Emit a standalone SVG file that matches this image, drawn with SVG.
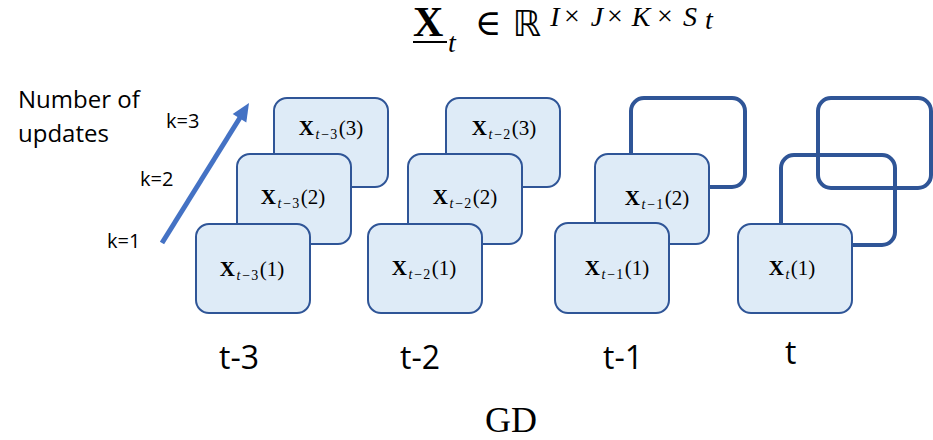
<svg xmlns="http://www.w3.org/2000/svg" width="933" height="440" viewBox="0 0 933 440">
<style>
.box{fill:#DEEBF7;stroke:#2F5597;stroke-width:2}
.empty{fill:none;stroke:#2F5597;stroke-width:4}
.lbl{font-family:"Liberation Serif","Times New Roman",serif;font-size:21px;fill:#000;text-anchor:middle}
.b{font-weight:bold}
.sub{font-size:14px}
.it{font-style:italic}
.sans{font-family:"Open Sans","Liberation Sans",sans-serif;fill:#000}
.k{font-size:20px}
.tl{font-size:32px}
.ser{font-family:"Liberation Serif","Times New Roman",serif;fill:#000}
.sup{font-family:"Liberation Serif","Times New Roman",serif;font-style:italic;font-size:28px;text-anchor:middle;fill:#000}
.op{font-family:"Liberation Serif","DejaVu Serif",serif;font-size:28px;text-anchor:middle;fill:#000}
</style>

<g id="title">
  <text class="ser" x="413" y="36" font-size="42" font-weight="bold">X</text>
  <line x1="413" y1="42" x2="447" y2="42" stroke="#000" stroke-width="2"/>
  <text class="ser" x="448" y="52" font-size="28" font-style="italic">t</text>
  <text x="488" y="35" font-family="DejaVu Serif, serif" font-size="36" text-anchor="middle">∈</text>
  <text x="527" y="36" font-family="DejaVu Sans, DejaVu Serif, sans-serif" font-size="36" text-anchor="middle">ℝ</text>
  <text class="sup" x="555" y="26">I</text>
  <text class="op" x="572" y="25">×</text>
  <text class="sup" x="597" y="26">J</text>
  <text class="op" x="615" y="25">×</text>
  <text class="sup" x="641" y="26">K</text>
  <text class="op" x="665" y="25">×</text>
  <text class="sup" x="690" y="26">S</text>
  <text class="sup" x="709" y="29" font-size="20">t</text>
</g>

<g id="legend">
  <text class="sans" x="18" y="108" font-size="24">Number of</text>
  <text class="sans" x="18" y="142" font-size="24">updates</text>
  <text class="sans k" x="166" y="128">k=3</text>
  <text class="sans k" x="140" y="186">k=2</text>
  <text class="sans k" x="107" y="248">k=1</text>
</g>

<g id="connectors">
  <line x1="162" y1="243" x2="241" y2="116" stroke="#4472C4" stroke-width="5"/>
  <polygon points="249,103 246.3,122.5 232.7,114.1" fill="#4472C4"/>
</g>

<g id="node-t-3">
  <rect class="box" x="274" y="98" width="114" height="89" rx="13"/>
  <text class="lbl" x="331" y="135"><tspan class="b">X</tspan><tspan class="sub it" dx="1.5" dy="4">t</tspan><tspan class="sub" dx="2">−</tspan><tspan class="sub" dx="1">3</tspan><tspan dx="1.5" dy="-4">(3)</tspan></text>
  <rect class="box" x="237" y="154" width="114" height="90" rx="13"/>
  <text class="lbl" x="293" y="204"><tspan class="b">X</tspan><tspan class="sub it" dx="1.5" dy="4">t</tspan><tspan class="sub" dx="2">−</tspan><tspan class="sub" dx="1">3</tspan><tspan dx="1.5" dy="-4">(2)</tspan></text>
  <rect class="box" x="196" y="224" width="114" height="89" rx="13"/>
  <text class="lbl" x="252" y="276"><tspan class="b">X</tspan><tspan class="sub it" dx="1.5" dy="4">t</tspan><tspan class="sub" dx="2">−</tspan><tspan class="sub" dx="1">3</tspan><tspan dx="1.5" dy="-4">(1)</tspan></text>
</g>

<g id="node-t-2">
  <rect class="box" x="446" y="98" width="114" height="89" rx="13"/>
  <text class="lbl" x="504" y="135"><tspan class="b">X</tspan><tspan class="sub it" dx="1.5" dy="4">t</tspan><tspan class="sub" dx="2">−</tspan><tspan class="sub" dx="1">2</tspan><tspan dx="1.5" dy="-4">(3)</tspan></text>
  <rect class="box" x="408" y="154" width="114" height="90" rx="13"/>
  <text class="lbl" x="465" y="204"><tspan class="b">X</tspan><tspan class="sub it" dx="1.5" dy="4">t</tspan><tspan class="sub" dx="2">−</tspan><tspan class="sub" dx="1">2</tspan><tspan dx="1.5" dy="-4">(2)</tspan></text>
  <rect class="box" x="368" y="224" width="114" height="89" rx="13"/>
  <text class="lbl" x="424" y="275"><tspan class="b">X</tspan><tspan class="sub it" dx="1.5" dy="4">t</tspan><tspan class="sub" dx="2">−</tspan><tspan class="sub" dx="1">2</tspan><tspan dx="1.5" dy="-4">(1)</tspan></text>
</g>

<g id="node-t-1">
  <rect class="empty" x="631" y="98" width="114" height="89" rx="13"/>
  <rect class="box" x="595" y="154" width="114" height="90" rx="13"/>
  <text class="lbl" x="657" y="205"><tspan class="b">X</tspan><tspan class="sub it" dx="1.5" dy="4">t</tspan><tspan class="sub" dx="2">−</tspan><tspan class="sub" dx="1">1</tspan><tspan dx="1.5" dy="-4">(2)</tspan></text>
  <rect class="box" x="555" y="223" width="114" height="90" rx="13"/>
  <text class="lbl" x="617" y="275"><tspan class="b">X</tspan><tspan class="sub it" dx="1.5" dy="4">t</tspan><tspan class="sub" dx="2">−</tspan><tspan class="sub" dx="1">1</tspan><tspan dx="1.5" dy="-4">(1)</tspan></text>
</g>

<g id="node-t">
  <rect class="empty" x="818" y="98" width="113" height="90" rx="13"/>
  <rect class="empty" x="781" y="155" width="114" height="90" rx="13"/>
  <rect class="box" x="738" y="224" width="114" height="89" rx="13"/>
  <text class="lbl" x="792" y="275"><tspan class="b">X</tspan><tspan class="sub it" dx="1.5" dy="4">t</tspan><tspan dx="1.5" dy="-4">(1)</tspan></text>
</g>

<g id="time-labels">
  <text class="sans tl" x="219" y="369">t-3</text>
  <text class="sans tl" x="400" y="369">t-2</text>
  <text class="sans tl" x="603" y="369">t-1</text>
  <text class="sans tl" x="785" y="364">t</text>
</g>

<text class="ser" x="511" y="432" font-size="36" text-anchor="middle">GD</text>
</svg>
